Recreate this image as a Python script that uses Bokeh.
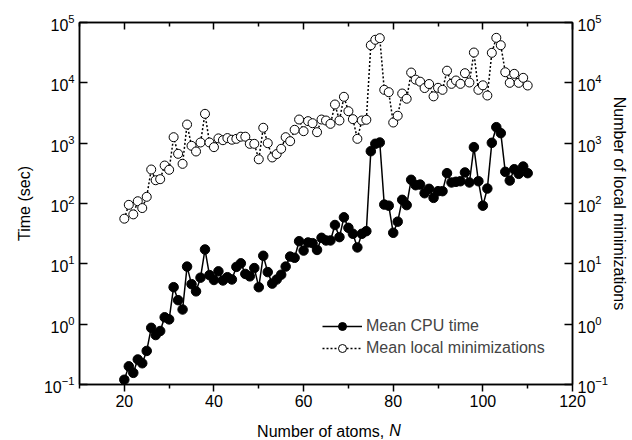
from bokeh.plotting import figure
from bokeh.models import (Range1d, LogAxis, LinearAxis, FixedTicker, Label, Legend,
                          LegendItem, CustomJSTickFormatter, LogTickFormatter)
from bokeh.embed import file_html
from bokeh.resources import INLINE

# ---- data ----
atoms_n = list(range(20, 111))
cpu_time = [0.12, 0.20, 0.156, 0.26, 0.225, 0.36, 0.87, 0.66, 0.77, 1.3,
            1.2, 4.1, 2.5, 1.75, 9.0, 4.6, 3.5, 5.9, 17.3, 6.5,
            5.4, 7.5, 5.3, 6.0, 5.5, 8.9, 10.2, 6.8, 6.2, 8.5,
            4.1, 13.6, 7.3, 4.7, 5.5, 6.6, 9.0, 13.2, 12.6, 23.7,
            16.6, 22.6, 22.0, 17.0, 27.0, 24.4, 24.4, 44.0, 27.7, 59.0,
            39.5, 31.5, 18.7, 31.5, 34.8, 736, 977, 1026, 96, 92,
            32.7, 50, 115, 94, 247, 201, 206, 148, 175, 124,
            160, 160, 318, 223, 229, 234, 327, 223, 859, 234,
            92, 177, 1014, 1841, 1466, 335, 240, 370, 310, 410,
            318]
local_min = [56, 95, 66, 109, 84, 129, 366, 243, 253, 426,
             362, 1256, 666, 454, 2037, 904, 728, 1026, 3064, 1026,
             859, 1200, 1120, 1215, 1140, 1180, 1280, 1280, 975, 975,
             540, 1800, 1000, 580, 660, 806, 1256, 1079, 1665, 2466,
             1580, 2317, 2142, 1520, 2466, 2375, 2091, 4375, 2375, 5866,
             3388, 2500, 1180, 2375, 2440, 42000, 51700, 55000, 7660, 7000,
             2200, 2850, 6650, 5450, 14800, 11300, 10450, 8200, 9560, 5970,
             8270, 7660, 15900, 9620, 10930, 9620, 14450, 10120, 31800, 7660,
             9100, 6165, 31400, 55700, 42000, 15000, 10000, 14100, 10000, 12100,
             9030]
x_major = [20, 40, 60, 80, 100, 120]
x_minor = [10, 30, 50, 70, 90, 110]
y_decades = [0.1, 1, 10, 100, 1000, 10000, 100000]

FONT = "Liberation Sans"
FS = "16px"

p = figure(width=632, height=440, output_backend="svg", toolbar_location=None,
           x_range=Range1d(10, 120), y_range=Range1d(0.1, 1e5), y_axis_type="log",
           min_border_left=77, min_border_right=60, min_border_top=22, min_border_bottom=56,
           background_fill_color="white", border_fill_color="white")
p.xgrid.visible = False
p.ygrid.visible = False
p.outline_line_color = "black"
p.outline_line_width = 1.5

# bottom axis
xa = p.xaxis[0]
xa.ticker = FixedTicker(ticks=x_major, minor_ticks=x_minor)
xa.major_tick_in = 0
xa.major_tick_out = 7
xa.minor_tick_in = 0
xa.minor_tick_out = 4
xa.major_label_standoff = 3
xa.major_label_text_font = FONT
xa.major_label_text_font_size = FS

# top axis (ticks only)
top = LinearAxis(ticker=FixedTicker(ticks=x_major, minor_ticks=x_minor),
                 formatter=CustomJSTickFormatter(code="return ''"),
                 major_tick_in=7, major_tick_out=0, minor_tick_in=4, minor_tick_out=0,
                 major_label_text_font_size="0px", major_label_standoff=0)
p.add_layout(top, "above")

# left axis
ya = p.yaxis[0]
ya.ticker = FixedTicker(ticks=y_decades)
ya.formatter = LogTickFormatter()
ya.major_tick_in = 8
ya.major_tick_out = 0
ya.minor_tick_line_color = None
ya.major_label_standoff = 5
ya.major_label_text_font = FONT
ya.major_label_text_font_size = FS
ya.axis_label = "Time (sec)"
ya.axis_label_text_font = FONT
ya.axis_label_text_font_size = FS
ya.axis_label_text_font_style = "normal"
ya.axis_label_standoff = 8

# right axis
ra = LogAxis(ticker=FixedTicker(ticks=y_decades), formatter=LogTickFormatter(),
             major_tick_in=8, major_tick_out=0, minor_tick_line_color=None,
             major_label_standoff=5, major_label_text_font=FONT, major_label_text_font_size=FS,
             axis_label="Number of local minimizations", axis_label_text_font=FONT,
             axis_label_text_font_size=FS, axis_label_text_font_style="normal",
             axis_label_standoff=0)
p.add_layout(ra, "right")

for ax in (xa, top, ya, ra):
    ax.axis_line_width = 1.5
    ax.major_tick_line_width = 1.5
    ax.minor_tick_line_width = 1.5
    ax.axis_line_color = "black"
    ax.major_tick_line_color = "black"
    ax.major_label_text_color = "black"
    ax.axis_label_text_color = "black"

# series
l2 = p.line(atoms_n, local_min, line_color="black", line_width=1.5, line_dash="2 2")
s2 = p.scatter(atoms_n, local_min, marker="circle", size=9, fill_color="white",
               line_color="black", line_width=1)
l1 = p.line(atoms_n, cpu_time, line_color="black", line_width=1.5)
s1 = p.scatter(atoms_n, cpu_time, marker="circle", size=9.5, fill_color="black",
               line_color="black", line_width=1)

legend = Legend(items=[LegendItem(label="Mean CPU time", renderers=[l1, s1]),
                       LegendItem(label="Mean local minimizations", renderers=[l2, s2])],
                location=(243, 26), border_line_color=None, background_fill_alpha=0,
                glyph_width=40, glyph_height=20, label_height=20, spacing=2,
                padding=0, margin=0, label_standoff=4,
                label_text_font=FONT, label_text_font_size=FS)
p.add_layout(legend)

# x-axis title with italic N
p.add_layout(Label(x=78.0, y=-5, x_units="data", y_units="screen",
                   text="Number of atoms,", text_align="right",
                   text_baseline="alphabetic", text_font=FONT, text_font_size=FS,
                   text_color="black"), "below")
p.add_layout(Label(x=79.1, y=-46, x_units="data", y_units="screen",
                   text="N", text_align="left",
                   text_baseline="alphabetic", text_font=FONT, text_font_size=FS,
                   text_font_style="italic", text_color="black"), "left")

open("out.html", "w").write(file_html(p, INLINE))
